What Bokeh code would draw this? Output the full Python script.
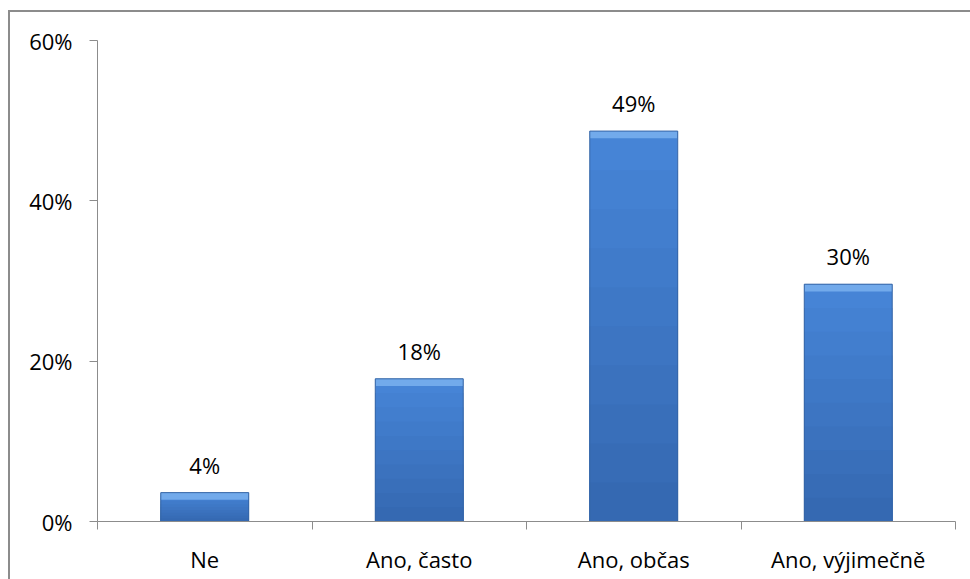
from bokeh.plotting import figure
from bokeh.models import FixedTicker, NumeralTickFormatter, ColumnDataSource, LabelSet, Range1d, InlineStyleSheet
from bokeh.core.properties import value
from bokeh.embed import file_html
from bokeh.resources import INLINE

categories = ["Ne", "Ano, často", "Ano, občas", "Ano, výjimečně"]
values = [0.036, 0.178, 0.487, 0.296]
y_ticks = [0, 0.2, 0.4, 0.6]

FONT = "Open Sans"
x = [i + 0.5 for i in range(len(categories))]
labels = [f"{v*100:.0f}%" for v in values]
BAR_W = 0.41

p = figure(width=960, height=567, output_backend="svg", toolbar_location=None,
           x_range=Range1d(0, len(categories)), y_range=Range1d(0, 0.6),
           min_border_left=87, min_border_right=17, min_border_top=28, min_border_bottom=60)
p.styles = {"margin-left": "8px", "margin-top": "10px"}
p.stylesheets = [InlineStyleSheet(css=":host { border-left: 2px solid #8c8c8c !important; border-top: 2px solid #8c8c8c !important; box-sizing: content-box; }")]
p.outline_line_color = None
p.xgrid.visible = False
p.ygrid.visible = False

# vertical gradient approximation: overlapping bands derived from each value
bands = 10
c_top = (0x47, 0x86, 0xd8)
c_bot = (0x35, 0x68, 0xb0)
for b in range(bands - 1, -1, -1):
    t = (b + 0.5) / bands
    col = "#%02x%02x%02x" % tuple(int(c_bot[k] + (c_top[k] - c_bot[k]) * t) for k in range(3))
    p.vbar(x=x, bottom=0, top=[v * (b + 1) / bands for v in values],
           width=BAR_W, fill_color=col, line_color=None)

bevel = 0.009
p.vbar(x=x, top=values, bottom=[v - bevel for v in values], width=BAR_W,
       fill_color="#72aaeb", line_color=None)
p.vbar(x=x, top=values, bottom=0, width=BAR_W, fill_color=None,
       line_color="#3565a6", line_width=1)

src = ColumnDataSource(dict(x=x, top=values, labels=labels))
ls = LabelSet(x="x", y="top", text="labels", source=src, y_offset=19,
              text_align="center", text_baseline="alphabetic",
              text_font=value(FONT), text_font_size="22px", text_color="#000000")
p.add_layout(ls)

ax = p.xaxis[0]
ax.ticker = FixedTicker(ticks=x, minor_ticks=list(range(len(categories) + 1)))
ax.major_label_overrides = {xx: c for xx, c in zip(x, categories)}
ax.major_tick_out = 0
ax.major_tick_in = 0
ax.minor_tick_out = 8
ax.minor_tick_in = 0
ax.minor_tick_line_color = "#8c8c8c"
ax.axis_line_color = "#8c8c8c"
ax.major_label_standoff = 14
ax.major_label_text_font = FONT
ax.major_label_text_font_size = "22px"
ax.major_label_text_color = "#000000"

ay = p.yaxis[0]
ay.ticker = FixedTicker(ticks=y_ticks, minor_ticks=[])
ay.formatter = NumeralTickFormatter(format="0%")
ay.major_tick_out = 8
ay.major_tick_in = 0
ay.minor_tick_out = 0
ay.minor_tick_in = 0
ay.major_tick_line_color = "#8c8c8c"
ay.axis_line_color = "#8c8c8c"
ay.major_label_standoff = 17
ay.major_label_text_font = FONT
ay.major_label_text_font_size = "22px"
ay.major_label_text_color = "#000000"

open("out.html", "w").write(file_html(p, INLINE))
